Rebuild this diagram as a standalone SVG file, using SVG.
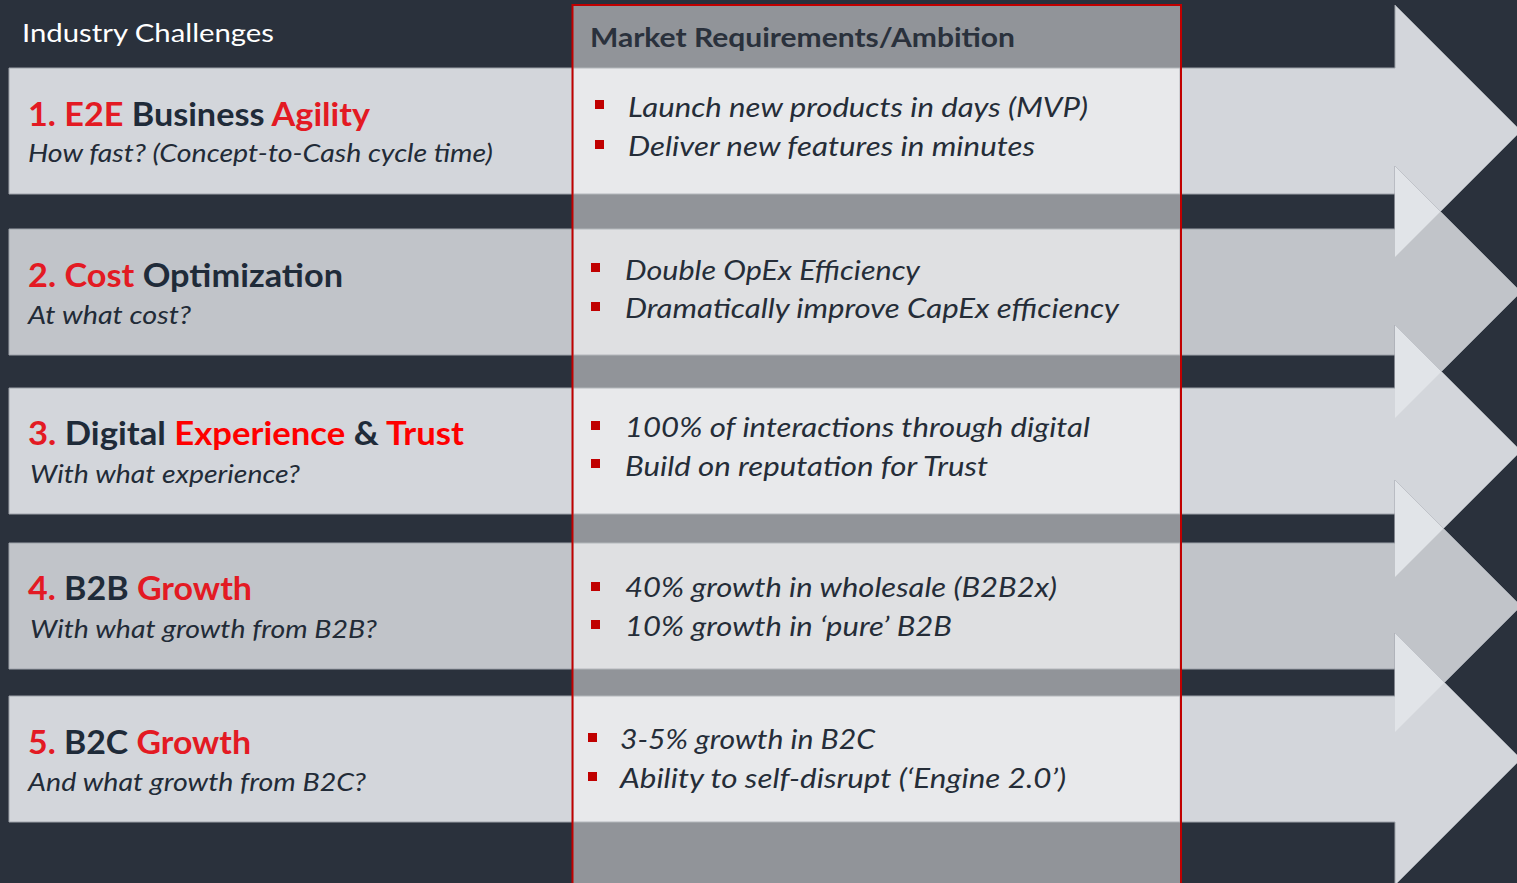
<svg xmlns="http://www.w3.org/2000/svg" width="1517" height="883" viewBox="0 0 1517 883">
<style>
.bg{fill:#2a313c}
.a1{fill:#d3d6db;stroke:#9ea3aa;stroke-width:1}
.a2{fill:#c1c4c9;stroke:#9ea3aa;stroke-width:1}
.ov{fill:#e1e4e8}
.m1{fill:#e8e9eb;stroke:#b4b7bc;stroke-width:1}
.m2{fill:#dfe0e2;stroke:#b4b7bc;stroke-width:1}
.bul{fill:#c00000}
.t{font-family:Lato,"Open Sans","Liberation Sans",sans-serif;font-weight:700;font-size:32px;fill:#1f2b39}
.r{fill:#e31a23}
.rr{fill:#fe0000}
.s{font-family:Lato,"Open Sans","Liberation Sans",sans-serif;font-style:italic;font-size:25px;fill:#222b37}
.b{font-family:Lato,"Open Sans","Liberation Sans",sans-serif;font-style:italic;font-size:27px;fill:#252d38}
.h{font-family:Lato,"Open Sans","Liberation Sans",sans-serif;font-weight:700;font-size:27px;fill:#2a313c}
.ic{font-family:Lato,"Open Sans","Liberation Sans",sans-serif;font-size:25px;fill:#ffffff}
</style>
<rect class="bg" x="0" y="0" width="1517" height="883"/>
<text class="ic" x="22" y="42" textLength="252" lengthAdjust="spacingAndGlyphs">Industry Challenges</text>

<g id="arrows">
<polygon id="arrow1" class="a1" points="9,68 1395,68 1395,5 1521,131 1395,257 1395,194 9,194"/>
<polygon id="arrow2" class="a2" points="9,229 1395,229 1395,166 1521,292 1395,418 1395,355 9,355"/>
<polygon id="arrow3" class="a1" points="9,388 1395,388 1395,325 1521,451 1395,577 1395,514 9,514"/>
<polygon id="arrow4" class="a2" points="9,543 1395,543 1395,480 1521,606 1395,732 1395,669 9,669"/>
<polygon id="arrow5" class="a1" points="9,696 1395,696 1395,633 1521,759 1395,885 1395,822 9,822"/>
<polygon class="ov" points="1395,166 1440.5,211.5 1395,257"/>
<polygon class="ov" points="1395,325 1441.5,371.5 1395,418"/>
<polygon class="ov" points="1395,480 1443.5,528.5 1395,577"/>
<polygon class="ov" points="1395,633 1444.5,682.5 1395,732"/>
</g>

<g id="market-column">
<rect x="572" y="5" width="609" height="890" fill="#919499"/>
<rect class="m1" x="573" y="68" width="607" height="126"/>
<rect class="m2" x="573" y="229" width="607" height="126"/>
<rect class="m1" x="573" y="388" width="607" height="126"/>
<rect class="m2" x="573" y="543" width="607" height="126"/>
<rect class="m1" x="573" y="696" width="607" height="126"/>
<rect x="572.5" y="5" width="608.5" height="890" fill="none" stroke="#c00000" stroke-width="2"/>
<text class="h" x="590" y="47" textLength="425" lengthAdjust="spacingAndGlyphs">Market Requirements/Ambition</text>
</g>

<g id="row1">
<text class="t" x="28" y="126" textLength="342" lengthAdjust="spacingAndGlyphs"><tspan class="r">1. E2E</tspan> Business <tspan class="r">Agility</tspan></text>
<text class="s" x="28" y="162" textLength="465" lengthAdjust="spacingAndGlyphs">How fast? (Concept-to-Cash cycle time)</text>
<rect class="bul" x="595" y="100" width="9" height="9"/>
<rect class="bul" x="595" y="140" width="9" height="9"/>
<text class="b" x="628" y="117" textLength="460" lengthAdjust="spacingAndGlyphs">Launch new products in days (MVP)</text>
<text class="b" x="628" y="156" textLength="407" lengthAdjust="spacingAndGlyphs">Deliver new features in minutes</text>
</g>

<g id="row2">
<text class="t" x="28" y="287" textLength="315" lengthAdjust="spacingAndGlyphs"><tspan class="r">2. Cost</tspan> Optimization</text>
<text class="s" x="28" y="324" textLength="163" lengthAdjust="spacingAndGlyphs">At what cost?</text>
<rect class="bul" x="591" y="263" width="9" height="9"/>
<rect class="bul" x="591" y="302" width="9" height="9"/>
<text class="b" x="625" y="280" textLength="295" lengthAdjust="spacingAndGlyphs">Double OpEx Efficiency</text>
<text class="b" x="625" y="318" textLength="494" lengthAdjust="spacingAndGlyphs">Dramatically improve CapEx efficiency</text>
</g>

<g id="row3">
<text class="t" x="28" y="445" textLength="436" lengthAdjust="spacingAndGlyphs"><tspan class="r">3.</tspan> Digital <tspan class="rr">Experience</tspan> &amp; <tspan class="rr">Trust</tspan></text>
<text class="s" x="30" y="483" textLength="270" lengthAdjust="spacingAndGlyphs">With what experience?</text>
<rect class="bul" x="591" y="421" width="9" height="9"/>
<rect class="bul" x="591" y="459" width="9" height="9"/>
<text class="b" x="625" y="437" textLength="465" lengthAdjust="spacingAndGlyphs">100% of interactions through digital</text>
<text class="b" x="625" y="476" textLength="363" lengthAdjust="spacingAndGlyphs">Build on reputation for Trust</text>
</g>

<g id="row4">
<text class="t" x="28" y="600" textLength="224" lengthAdjust="spacingAndGlyphs"><tspan class="r">4.</tspan> B2B <tspan class="r">Growth</tspan></text>
<text class="s" x="30" y="638" textLength="347" lengthAdjust="spacingAndGlyphs">With what growth from B2B?</text>
<rect class="bul" x="591" y="582" width="9" height="9"/>
<rect class="bul" x="591" y="620" width="9" height="9"/>
<text class="b" x="625" y="597" textLength="432" lengthAdjust="spacingAndGlyphs">40% growth in wholesale (B2B2x)</text>
<text class="b" x="625" y="636" textLength="327" lengthAdjust="spacingAndGlyphs">10% growth in ‘pure’ B2B</text>
</g>

<g id="row5">
<text class="t" x="28" y="754" textLength="223" lengthAdjust="spacingAndGlyphs"><tspan class="r">5.</tspan> B2C <tspan class="r">Growth</tspan></text>
<text class="s" x="28" y="791" textLength="338" lengthAdjust="spacingAndGlyphs">And what growth from B2C?</text>
<rect class="bul" x="588" y="733" width="9" height="9"/>
<rect class="bul" x="588" y="772" width="9" height="9"/>
<text class="b" x="620" y="749" textLength="255" lengthAdjust="spacingAndGlyphs">3-5% growth in B2C</text>
<text class="b" x="620" y="788" textLength="446" lengthAdjust="spacingAndGlyphs">Ability to self-disrupt (‘Engine 2.0’)</text>
</g>
</svg>
